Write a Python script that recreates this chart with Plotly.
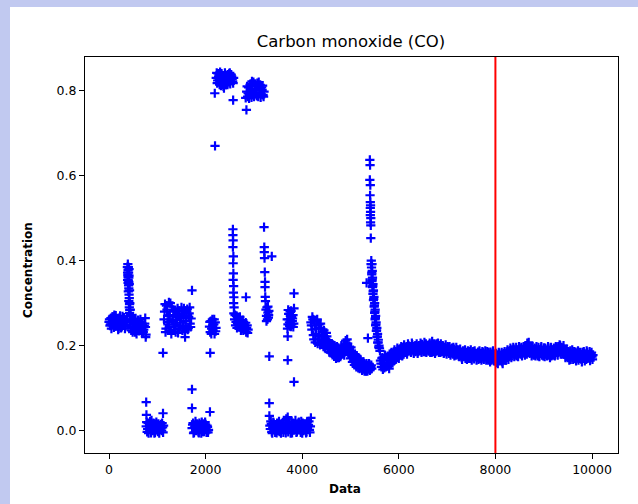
import plotly.graph_objects as go

# ---------------- data (x = sample index, y = concentration) -------------
plateau_a_x = [0, 20, 40, 60, 80, 100, 120, 140, 160, 180, 200, 220, 240, 260, 280, 300, 320, 340, 360,
               10, 30, 50, 70, 90, 110, 130, 150, 170, 190, 210, 230, 250, 270, 290, 310, 330, 350]
plateau_a_y = [0.256, 0.247, 0.265, 0.252, 0.268, 0.243, 0.260, 0.271, 0.249, 0.262, 0.241, 0.266, 0.254,
               0.244, 0.269, 0.250, 0.262, 0.246, 0.258,
               0.262, 0.250, 0.240, 0.268, 0.256, 0.272, 0.246, 0.258, 0.264, 0.238, 0.252, 0.270, 0.242,
               0.260, 0.248, 0.266, 0.240, 0.255]

spike_a_x = [390, 400, 395, 405, 390, 410, 400, 395, 405, 410, 400, 415, 420, 410, 425, 420, 430, 425, 435,
             440, 385, 415, 420, 380, 395, 410, 385, 415, 425, 430, 440, 445]
spike_a_y = [0.392, 0.385, 0.378, 0.372, 0.366, 0.360, 0.354, 0.348, 0.342, 0.335, 0.328, 0.320, 0.312,
             0.305, 0.298, 0.290, 0.284, 0.277, 0.270, 0.262, 0.372, 0.380, 0.345, 0.385, 0.362, 0.350,
             0.355, 0.365, 0.330, 0.300, 0.285, 0.272]

plateau_b_x = [440, 460, 480, 500, 520, 540, 560, 580, 600, 620, 640, 660, 680, 700, 720, 740,
               750, 755, 760, 766,
               450, 470, 490, 510, 530, 550, 570, 590, 610, 630, 650, 670, 690, 710, 730]
plateau_b_y = [0.250, 0.236, 0.258, 0.244, 0.262, 0.232, 0.252, 0.240, 0.260, 0.235, 0.248, 0.256, 0.230,
               0.245, 0.238, 0.252, 0.265, 0.244, 0.220, 0.226,
               0.242, 0.260, 0.232, 0.254, 0.240, 0.264, 0.228, 0.248, 0.258, 0.236, 0.262, 0.240, 0.250,
               0.232, 0.246]

low_a_x = [770, 790, 810, 830, 850, 870, 890, 910, 930, 950, 970, 990, 1010, 1030, 1050, 1070, 1090, 1110,
           1130, 770, 775, 1118, 1118,
           780, 800, 820, 840, 860, 880, 900, 920, 940, 960, 980, 1000, 1020, 1040, 1060, 1080, 1100, 1120]
low_a_y = [0.010, -0.003, 0.018, 0.004, 0.022, -0.005, 0.012, 0.002, 0.016, -0.004, 0.008, 0.014, -0.002,
           0.010, 0.004, 0.015, 0.000, 0.008, 0.012, 0.067, 0.037, 0.041, 0.183,
           0.020, 0.004, -0.006, 0.014, 0.008, 0.024, 0.000, 0.018, -0.006, 0.010, 0.020, 0.002, 0.016,
           -0.006, 0.012, 0.006, 0.018, -0.004]

blob_b_x = [1140, 1160, 1180, 1200, 1220, 1240, 1260, 1280, 1300, 1320, 1340, 1360, 1380, 1400, 1420,
            1440, 1460, 1480, 1500, 1520, 1540, 1560, 1580, 1600, 1620, 1640, 1660, 1680, 1700, 1718, 1575,
            1150, 1170, 1190, 1210, 1230, 1250, 1270, 1290, 1310, 1330, 1350, 1370, 1390, 1410, 1430,
            1450, 1470, 1490, 1510, 1530, 1550, 1570, 1590, 1610, 1630, 1650, 1670, 1690]
blob_b_y = [0.262, 0.298, 0.240, 0.285, 0.250, 0.302, 0.272, 0.236, 0.292, 0.258, 0.245, 0.280, 0.232,
            0.268, 0.288, 0.240, 0.275, 0.254, 0.290, 0.236, 0.266, 0.282, 0.246, 0.270, 0.286, 0.242,
            0.276, 0.252, 0.264, 0.330, 0.220,
            0.280, 0.232, 0.294, 0.256, 0.270, 0.244, 0.300, 0.228, 0.262, 0.284, 0.238, 0.250, 0.272,
            0.260, 0.230, 0.282, 0.248, 0.264, 0.276, 0.244, 0.288, 0.232, 0.258, 0.280, 0.238, 0.268,
            0.290, 0.244]

low_b_x = [1720, 1740, 1760, 1780, 1800, 1820, 1840, 1860, 1880, 1900, 1920, 1940, 1960, 1980, 2000, 2020,
           2040, 2060, 1718, 1718, 2090,
           1730, 1750, 1770, 1790, 1810, 1830, 1850, 1870, 1890, 1910, 1930, 1950, 1970, 1990, 2010, 2030,
           2050]
low_b_y = [0.006, 0.018, -0.004, 0.012, 0.000, 0.016, 0.004, -0.005, 0.014, 0.008, 0.020, -0.002, 0.010,
           0.003, 0.015, -0.004, 0.009, 0.002, 0.097, 0.053, 0.044,
           0.014, -0.006, 0.008, 0.022, 0.002, 0.010, -0.003, 0.018, 0.004, -0.006, 0.012, 0.016, -0.002,
           0.020, 0.006, 0.012, -0.004]

blob_c_x = [2080, 2095, 2110, 2125, 2140, 2155, 2170, 2185, 2200, 2215, 2095, 2088, 2118, 2148, 2178, 2208]
blob_c_y = [0.245, 0.232, 0.258, 0.240, 0.262, 0.236, 0.250, 0.228, 0.255, 0.242, 0.183,
            0.256, 0.228, 0.248, 0.262, 0.234]

top_a_x = [2220, 2240, 2260, 2280, 2300, 2320, 2340, 2360, 2380, 2400, 2420, 2440, 2460, 2480, 2500, 2520,
           2540, 2560, 2580, 2190, 2195, 2570,
           2230, 2250, 2270, 2290, 2310, 2330, 2350, 2370, 2390, 2410, 2430, 2450, 2470, 2490, 2510, 2530,
           2550, 2570]
top_a_y = [0.830, 0.818, 0.840, 0.826, 0.844, 0.812, 0.836, 0.822, 0.806, 0.842, 0.814, 0.832, 0.838,
           0.820, 0.842, 0.826, 0.834, 0.822, 0.830, 0.794, 0.670, 0.778,
           0.842, 0.824, 0.834, 0.814, 0.828, 0.840, 0.818, 0.810, 0.830, 0.826, 0.836, 0.818, 0.826,
           0.840, 0.816, 0.838, 0.828, 0.818]

drop_a_x = [2565, 2565, 2570, 2565, 2575, 2570, 2575, 2570, 2580, 2575, 2585, 2580, 2590, 2585]
drop_a_y = [0.474, 0.460, 0.448, 0.432, 0.410, 0.394, 0.370, 0.355, 0.340, 0.325, 0.314, 0.300, 0.290, 0.276]

blob_d_x = [2600, 2620, 2640, 2660, 2680, 2700, 2720, 2740, 2760, 2780, 2800, 2820, 2840, 2860, 2880, 2836,
            2610, 2630, 2650, 2670, 2690, 2710, 2730, 2750, 2770, 2790, 2810, 2830, 2850, 2870]
blob_d_y = [0.262, 0.248, 0.270, 0.252, 0.266, 0.244, 0.258, 0.240, 0.255, 0.236, 0.250, 0.242, 0.232,
            0.248, 0.238, 0.314,
            0.272, 0.256, 0.242, 0.262, 0.250, 0.268, 0.236, 0.248, 0.260, 0.244, 0.238, 0.254, 0.242,
            0.230]

top_b_x = [2850, 2870, 2890, 2910, 2930, 2950, 2970, 2990, 3010, 3030, 3050, 3070, 3090, 3110, 3130, 3150,
           3170, 3190, 3210, 2830, 2845,
           2860, 2880, 2900, 2920, 2940, 2960, 2980, 3000, 3020, 3040, 3060, 3080, 3100, 3120, 3140, 3160,
           3180, 3200]
top_b_y = [0.798, 0.786, 0.808, 0.792, 0.816, 0.784, 0.804, 0.820, 0.790, 0.812, 0.796, 0.818, 0.786,
           0.806, 0.814, 0.792, 0.802, 0.790, 0.798, 0.783, 0.755,
           0.810, 0.794, 0.782, 0.814, 0.800, 0.822, 0.796, 0.786, 0.816, 0.804, 0.788, 0.810, 0.820,
           0.794, 0.784, 0.808, 0.812, 0.786]

drop_b_x = [3210, 3215, 3215, 3220, 3370, 3225, 3230, 3230, 3235, 3240,
            3250, 3260, 3270, 3280, 3290, 3300, 3310, 3260, 3290, 3305, 3318, 3318, 3320]
drop_b_y = [0.479, 0.432, 0.420, 0.406, 0.410, 0.373, 0.350, 0.338, 0.315, 0.305,
            0.285, 0.270, 0.290, 0.262, 0.278, 0.266, 0.282, 0.258, 0.292, 0.272, 0.175, 0.065, 0.035]

low_c_x = [3330, 3350, 3370, 3390, 3410, 3430, 3450, 3470, 3490, 3510,
           3530, 3550, 3570, 3590, 3610, 3630, 3650, 3670, 3690, 3710,
           3730, 3750, 3770, 3790, 3810, 3830, 3850, 3870, 3890, 3910,
           3930, 3950, 3970, 3990, 4010, 4030, 4050, 4070, 4090, 4110,
           4130, 4150, 4170, 4180,
           3340, 3360, 3380, 3400, 3420, 3440, 3460, 3480, 3500, 3520,
           3540, 3560, 3580, 3600, 3620, 3640, 3660, 3680, 3700, 3720,
           3740, 3760, 3780, 3800, 3820, 3840, 3860, 3880, 3900, 3920,
           3940, 3960, 3980, 4000, 4020, 4040, 4060, 4080, 4100, 4120,
           4140, 4160]
low_c_y = [0.012, 0.022, -0.003, 0.008, 0.018, 0.001, 0.014, -0.005, 0.006, 0.010,
           -0.002, 0.012, 0.004, 0.016, -0.004, 0.008, 0.002, 0.028, 0.014, -0.003,
           0.020, 0.006, 0.012, -0.005, 0.018, 0.002, 0.010, 0.015, -0.002, 0.008,
           0.020, 0.004, -0.004, 0.012, 0.018, 0.000, 0.009, 0.016, -0.003, 0.006,
           0.014, 0.002, 0.010, 0.030,
           0.004, 0.016, -0.006, 0.020, 0.008, -0.004, 0.012, 0.018, 0.000, 0.022,
           0.008, -0.006, 0.016, 0.006, 0.024, 0.010, -0.005, 0.018, 0.032, 0.004,
           0.012, -0.006, 0.022, 0.010, 0.002, 0.016, 0.024, -0.004, 0.012, 0.018,
           0.002, 0.014, 0.022, -0.006, 0.008, 0.016, 0.004, -0.005, 0.020, 0.012,
           0.022, -0.004]

blob_f_x = [3690, 3705, 3720, 3735, 3750, 3765, 3780, 3795, 3810, 3825, 3830, 3830, 3700, 3700, 3830,
            3695, 3710, 3725, 3740, 3755, 3770, 3785, 3800, 3815]
blob_f_y = [0.262, 0.250, 0.275, 0.255, 0.280, 0.245, 0.268, 0.258, 0.272, 0.252, 0.323, 0.288, 0.222,
            0.166, 0.115,
            0.240, 0.284, 0.262, 0.246, 0.270, 0.282, 0.250, 0.264, 0.244]

decline_x = [4180, 4200, 4220, 4240, 4260, 4280, 4300, 4320, 4340, 4360,
             4380, 4400, 4420, 4440, 4460, 4480, 4500, 4520, 4540, 4560,
             4580, 4600, 4620, 4640, 4660, 4680, 4700, 4720, 4740, 4760,
             4780, 4800, 4820, 4840, 4860, 4880, 4900, 4920, 4940, 4960,
             4980, 5000, 5020, 5040, 5060, 5080, 5100, 5120, 5140, 5160,
             5180, 5200, 5220, 5240, 5260, 5280, 5300, 5320, 5340, 5360,
             5380, 5400, 5420, 5440,
             4190, 4210, 4230, 4250, 4270, 4290, 4310, 4330, 4350, 4370,
             4390, 4410, 4430, 4450, 4470, 4490, 4510, 4530, 4550, 4570,
             4590, 4610, 4630, 4650, 4670, 4690, 4710, 4730, 4750, 4770,
             4790, 4810, 4830, 4850, 4870, 4890, 4910, 4930, 4950, 4970,
             4990, 5010, 5030, 5050, 5070, 5090, 5110, 5130, 5150, 5170,
             5190, 5210, 5230, 5250, 5270, 5290, 5310, 5330, 5350, 5370,
             5390, 5410, 5430]
decline_y = [0.255, 0.238, 0.262, 0.215, 0.248, 0.228, 0.258, 0.205, 0.242, 0.222,
             0.252, 0.210, 0.232, 0.198, 0.222, 0.205, 0.230, 0.192, 0.212, 0.185,
             0.205, 0.195, 0.182, 0.202, 0.175, 0.192, 0.170, 0.198, 0.180, 0.172,
             0.190, 0.178, 0.196, 0.182, 0.200, 0.186, 0.212, 0.190, 0.205, 0.180,
             0.198, 0.170, 0.188, 0.162, 0.178, 0.155, 0.172, 0.150, 0.165, 0.148,
             0.170, 0.152, 0.160, 0.142, 0.158, 0.145, 0.155, 0.140, 0.152, 0.145,
             0.158, 0.142, 0.150, 0.146,
             0.248, 0.268, 0.225, 0.260, 0.208, 0.240, 0.262, 0.215, 0.250, 0.202,
             0.240, 0.225, 0.212, 0.236, 0.195, 0.215, 0.222, 0.200, 0.208, 0.196,
             0.184, 0.205, 0.190, 0.180, 0.200, 0.182, 0.190, 0.172, 0.195, 0.186,
             0.174, 0.200, 0.186, 0.192, 0.178, 0.205, 0.196, 0.215, 0.186, 0.192,
             0.182, 0.196, 0.176, 0.185, 0.166, 0.180, 0.160, 0.176, 0.156, 0.162,
             0.146, 0.166, 0.150, 0.148, 0.162, 0.140, 0.150, 0.158, 0.140, 0.150,
             0.156, 0.144, 0.154]

spike_b_x = [5400, 5405, 5400, 5410, 5405, 5410, 5415, 5410, 5415, 5410, 5420, 5415, 5420, 5420,
             5430, 5445, 5435, 5450, 5440, 5455, 5445, 5465, 5455, 5475, 5465, 5485, 5475, 5500, 5490,
             5510, 5500, 5520, 5510, 5530, 5520, 5545, 5535, 5560, 5550, 5575, 5565, 5590, 5600, 5610,
             5333, 5360,
             5425, 5440, 5450, 5460, 5470, 5480, 5495, 5505, 5515, 5525, 5540, 5555, 5570, 5585]
spike_b_y = [0.637, 0.625, 0.590, 0.578, 0.554, 0.538, 0.530, 0.524, 0.515, 0.507, 0.500, 0.490, 0.483,
             0.453,
             0.400, 0.392, 0.384, 0.376, 0.368, 0.360, 0.352, 0.345, 0.338, 0.330, 0.322, 0.315, 0.307,
             0.300, 0.292, 0.285, 0.277, 0.270, 0.262, 0.255, 0.248, 0.242, 0.235, 0.228, 0.220, 0.214,
             0.207, 0.200, 0.194, 0.188,
             0.348, 0.218,
             0.392, 0.372, 0.356, 0.340, 0.328, 0.310, 0.295, 0.280, 0.265, 0.250, 0.236, 0.222, 0.208,
             0.196]

tail_x = [5620, 5640, 5660, 5680, 5700, 5720, 5740, 5760, 5780, 5800,
          5820, 5840, 5860, 5880, 5900, 5920, 5940, 5960, 5980, 6000,
          6020, 6040, 6060, 6080, 6100, 6120, 6140, 6160, 6180, 6200,
          6220, 6240, 6260, 6280, 6300, 6320, 6340, 6360, 6380, 6400,
          6420, 6440, 6460, 6480, 6500, 6520, 6540, 6560, 6580, 6600,
          6620, 6640, 6660, 6680, 6700, 6720, 6740, 6760, 6780, 6800,
          6820, 6840, 6860, 6880, 6900, 6920, 6940, 6960, 6980, 7000,
          7020, 7040, 7060, 7080, 7100, 7120, 7140, 7160, 7180, 7200,
          7220, 7240, 7260, 7280, 7300, 7320, 7340, 7360, 7380, 7400,
          7420, 7440, 7460, 7480, 7500, 7520, 7540, 7560, 7580, 7600,
          7620, 7640, 7660, 7680, 7700, 7720, 7740, 7760, 7780, 7800,
          7820, 7840, 7860, 7880, 7900, 7920, 7940, 7960, 7980, 8000,
          8020, 8040, 8060, 8080, 8100, 8120, 8140, 8160, 8180, 8200,
          8220, 8240, 8260, 8280, 8300, 8320, 8340, 8360, 8380, 8400,
          8420, 8440, 8460, 8480, 8500, 8520, 8540, 8560, 8580, 8600,
          8620, 8640, 8660, 8680, 8700, 8720, 8740, 8760, 8780, 8800,
          8820, 8840, 8860, 8880, 8900, 8920, 8940, 8960, 8980, 9000,
          9020, 9040, 9060, 9080, 9100, 9120, 9140, 9160, 9180, 9200,
          9220, 9240, 9260, 9280, 9300, 9320, 9340, 9360, 9380, 9400,
          9420, 9440, 9460, 9480, 9500, 9520, 9540, 9560, 9580, 9600,
          9620, 9640, 9660, 9680, 9700, 9720, 9740, 9760, 9780, 9800,
          9820, 9840, 9860, 9880, 9900, 9920, 9940, 9960, 9980, 10000,
          10020]
tail_y = [0.165, 0.150, 0.172, 0.158, 0.148, 0.176, 0.160, 0.152, 0.170, 0.146,
          0.176, 0.158, 0.170, 0.182, 0.164, 0.186, 0.172, 0.178, 0.190, 0.170,
          0.192, 0.178, 0.186, 0.196, 0.180, 0.190, 0.184, 0.198, 0.186, 0.200,
          0.188, 0.198, 0.186, 0.202, 0.192, 0.188, 0.200, 0.190, 0.196, 0.186,
          0.200, 0.188, 0.194, 0.203, 0.190, 0.198, 0.186, 0.204, 0.192, 0.197,
          0.188, 0.206, 0.194, 0.184, 0.200, 0.190, 0.198, 0.186, 0.204, 0.192,
          0.190, 0.200, 0.184, 0.196, 0.188, 0.198, 0.183, 0.194, 0.186, 0.192,
          0.196, 0.182, 0.190, 0.186, 0.194, 0.180, 0.192, 0.184, 0.178, 0.190,
          0.182, 0.188, 0.176, 0.184, 0.172, 0.186, 0.178, 0.182, 0.170, 0.184,
          0.182, 0.174, 0.186, 0.170, 0.180, 0.176, 0.186, 0.169, 0.178, 0.182,
          0.172, 0.185, 0.176, 0.170, 0.182, 0.174, 0.184, 0.168, 0.180, 0.176,
          0.178, 0.170, 0.184, 0.172, 0.185, 0.166, 0.176, 0.170, 0.180, 0.164,
          0.160, 0.178, 0.170, 0.182, 0.166, 0.176, 0.162, 0.180, 0.170, 0.174,
          0.180, 0.172, 0.186, 0.176, 0.188, 0.178, 0.190, 0.182, 0.192, 0.178,
          0.186, 0.176, 0.190, 0.182, 0.194, 0.180, 0.196, 0.184, 0.190, 0.182,
          0.194, 0.186, 0.206, 0.190, 0.198, 0.184, 0.196, 0.180, 0.190, 0.178,
          0.192, 0.180, 0.188, 0.176, 0.190, 0.182, 0.194, 0.178, 0.186, 0.195,
          0.174, 0.188, 0.182, 0.192, 0.178, 0.186, 0.194, 0.176, 0.190, 0.182,
          0.190, 0.180, 0.196, 0.184, 0.198, 0.186, 0.200, 0.190, 0.194, 0.184,
          0.180, 0.190, 0.176, 0.186, 0.172, 0.184, 0.178, 0.168, 0.182, 0.174,
          0.180, 0.170, 0.185, 0.172, 0.178, 0.166, 0.182, 0.174, 0.168, 0.184,
          0.170, 0.182, 0.176, 0.168, 0.184, 0.172, 0.178, 0.165, 0.180, 0.174,
          0.178]

tail_b_x = [5630, 5650, 5670, 5690, 5710, 5730, 5750, 5770, 5790, 5810,
            5830, 5850, 5870, 5890, 5910, 5930, 5950, 5970, 5990, 6010,
            6030, 6050, 6070, 6090, 6110, 6130, 6150, 6170, 6190, 6210,
            6230, 6250, 6270, 6290, 6310, 6330, 6350, 6370, 6390, 6410,
            6430, 6450, 6470, 6490, 6510, 6530, 6550, 6570, 6590, 6610,
            6630, 6650, 6670, 6690, 6710, 6730, 6750, 6770, 6790, 6810,
            6830, 6850, 6870, 6890, 6910, 6930, 6950, 6970, 6990, 7010,
            7030, 7050, 7070, 7090, 7110, 7130, 7150, 7170, 7190, 7210,
            7230, 7250, 7270, 7290, 7310, 7330, 7350, 7370, 7390, 7410,
            7430, 7450, 7470, 7490, 7510, 7530, 7550, 7570, 7590, 7610,
            7630, 7650, 7670, 7690, 7710, 7730, 7750, 7770, 7790, 7810,
            7830, 7850, 7870, 7890, 7910, 7930, 7950, 7970, 7990, 8010,
            8030, 8050, 8070, 8090, 8110, 8130, 8150, 8170, 8190, 8210,
            8230, 8250, 8270, 8290, 8310, 8330, 8350, 8370, 8390, 8410,
            8430, 8450, 8470, 8490, 8510, 8530, 8550, 8570, 8590, 8610,
            8630, 8650, 8670, 8690, 8710, 8730, 8750, 8770, 8790, 8810,
            8830, 8850, 8870, 8890, 8910, 8930, 8950, 8970, 8990, 9010,
            9030, 9050, 9070, 9090, 9110, 9130, 9150, 9170, 9190, 9210,
            9230, 9250, 9270, 9290, 9310, 9330, 9350, 9370, 9390, 9410,
            9430, 9450, 9470, 9490, 9510, 9530, 9550, 9570, 9590, 9610,
            9630, 9650, 9670, 9690, 9710, 9730, 9750, 9770, 9790, 9810,
            9830, 9850, 9870, 9890, 9910, 9930, 9950, 9970, 9990, 10010]
tail_b_y = [0.158, 0.170, 0.144, 0.166, 0.178, 0.150, 0.168, 0.174, 0.156, 0.180,
            0.166, 0.184, 0.160, 0.176, 0.190, 0.168, 0.180, 0.194, 0.176, 0.186,
            0.184, 0.198, 0.176, 0.190, 0.202, 0.186, 0.196, 0.180, 0.204, 0.192,
            0.196, 0.184, 0.206, 0.190, 0.182, 0.198, 0.186, 0.204, 0.182, 0.200,
            0.192, 0.206, 0.184, 0.198, 0.186, 0.208, 0.190, 0.184, 0.200, 0.188,
            0.198, 0.184, 0.200, 0.210, 0.186, 0.204, 0.182, 0.194, 0.188, 0.206,
            0.184, 0.196, 0.204, 0.186, 0.200, 0.182, 0.192, 0.202, 0.180, 0.198,
            0.186, 0.198, 0.178, 0.192, 0.182, 0.196, 0.176, 0.188, 0.196, 0.180,
            0.190, 0.174, 0.192, 0.180, 0.168, 0.188, 0.174, 0.190, 0.178, 0.168,
            0.188, 0.170, 0.180, 0.190, 0.166, 0.184, 0.172, 0.188, 0.176, 0.166,
            0.180, 0.168, 0.188, 0.174, 0.166, 0.186, 0.170, 0.178, 0.188, 0.166,
            0.186, 0.166, 0.178, 0.162, 0.180, 0.172, 0.188, 0.164, 0.174, 0.182,
            0.170, 0.158, 0.184, 0.164, 0.176, 0.184, 0.158, 0.172, 0.186, 0.166,
            0.176, 0.190, 0.168, 0.182, 0.194, 0.172, 0.184, 0.196, 0.174, 0.188,
            0.196, 0.182, 0.174, 0.198, 0.186, 0.192, 0.176, 0.188, 0.198, 0.178,
            0.200, 0.180, 0.196, 0.208, 0.182, 0.192, 0.176, 0.198, 0.184, 0.194,
            0.176, 0.198, 0.184, 0.196, 0.174, 0.186, 0.198, 0.182, 0.176, 0.190,
            0.194, 0.180, 0.176, 0.198, 0.184, 0.172, 0.196, 0.186, 0.178, 0.194,
            0.176, 0.198, 0.188, 0.178, 0.192, 0.202, 0.180, 0.196, 0.186, 0.200,
            0.188, 0.172, 0.192, 0.180, 0.186, 0.166, 0.188, 0.176, 0.190, 0.168,
            0.186, 0.176, 0.164, 0.182, 0.188, 0.172, 0.184, 0.176, 0.162, 0.178,
            0.186, 0.164, 0.180, 0.188, 0.170, 0.176, 0.186, 0.172, 0.184, 0.168]

threshold_x = 8000
x_ticks = [0, 2000, 4000, 6000, 8000, 10000]
y_ticks = [0.0, 0.2, 0.4, 0.6, 0.8]
title_text = "Carbon monoxide (CO)"
x_label = "Data"
y_label = "Concentration"

segments = [
    (plateau_a_x, plateau_a_y), (spike_a_x, spike_a_y), (plateau_b_x, plateau_b_y),
    (low_a_x, low_a_y), (blob_b_x, blob_b_y), (low_b_x, low_b_y), (blob_c_x, blob_c_y),
    (top_a_x, top_a_y), (drop_a_x, drop_a_y), (blob_d_x, blob_d_y), (top_b_x, top_b_y),
    (drop_b_x, drop_b_y), (low_c_x, low_c_y), (blob_f_x, blob_f_y), (decline_x, decline_y),
    (spike_b_x, spike_b_y), (tail_x, tail_y), (tail_b_x, tail_b_y),
]
xs, ys = [], []
for sx, sy in segments:
    assert len(sx) == len(sy), (len(sx), len(sy))
    xs.extend(sx)
    ys.extend(sy)

# ---------------- figure ----------------
W, H = 638, 504
L, R, T, B = 85, 20, 57, 51
pw, ph = W - L - R, H - T - B


def px_x(p):
    return (p - L) / pw


def px_y(p):
    return (H - B - p) / ph


fig = go.Figure()
fig.add_trace(go.Scatter(
    x=xs, y=ys, mode="markers",
    marker=dict(symbol="cross-thin", size=6.6, color="#0000ff",
                line=dict(width=2.2, color="#0000ff")),
    hoverinfo="skip", showlegend=False,
))

tick_font = dict(family="DejaVu Sans", size=12.5, color="#000000")
axis_common = dict(showgrid=False, zeroline=False, showline=True, mirror=True,
                   linecolor="#000000", linewidth=1, ticks="outside", ticklen=5,
                   tickwidth=1, tickcolor="#000000", tickfont=tick_font)

fig.update_layout(
    width=W, height=H,
    margin=dict(l=L, r=R, t=T, b=B, pad=0),
    paper_bgcolor="#ffffff", plot_bgcolor="#ffffff",
    xaxis=dict(range=[-497, 10538], tickvals=x_ticks, ticktext=[str(v) for v in x_ticks], **axis_common),
    yaxis=dict(range=[-0.0525, 0.8793], tickvals=y_ticks, ticktext=[f"{v:.1f}" for v in y_ticks],
               **axis_common),
    title=dict(text=title_text, x=px_x(351), xref="paper", xanchor="center",
               y=1 - 41 / H, yref="container", yanchor="middle",
               font=dict(family="DejaVu Sans", size=16.5, color="#000000")),
    showlegend=False,
    shapes=[
        # screenshot frame strips
        dict(type="rect", xref="paper", yref="paper", x0=-0.3, x1=1.2, y0=px_y(7), y1=1.3,
             fillcolor="#c1c9f0", line=dict(width=0), layer="below"),
        dict(type="rect", xref="paper", yref="paper", x0=-0.3, x1=px_x(10), y0=-0.3, y1=1.3,
             fillcolor="#c1c9f0", line=dict(width=0), layer="below"),
        # threshold line
        dict(type="line", xref="x", yref="paper", x0=threshold_x, x1=threshold_x, y0=0, y1=1,
             line=dict(color="#ff0000", width=2), layer="above"),
    ],
    annotations=[
        dict(text=y_label, xref="paper", yref="paper", x=px_x(28), y=px_y(270), textangle=-90,
             showarrow=False, xanchor="center", yanchor="middle",
             font=dict(family="DejaVu Sans", size=12, color="#000000", weight="bold")),
        dict(text=x_label, xref="paper", yref="paper", x=px_x(345), y=px_y(489),
             showarrow=False, xanchor="center", yanchor="middle",
             font=dict(family="DejaVu Sans", size=12, color="#000000", weight="bold")),
    ],
)

fig.write_html("out.html")
